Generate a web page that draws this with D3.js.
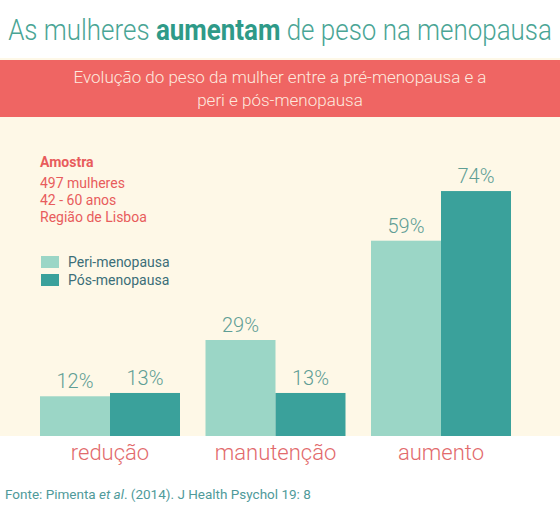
<!DOCTYPE html>
<html><head><meta charset="utf-8">
<script src="https://cdn.jsdelivr.net/npm/d3@7"></script>
<style>
html,body{margin:0;padding:0;background:#fff;}
svg{display:block;font-family:Roboto, "Noto Sans", sans-serif;}
</style></head>
<body><svg id="c" width="560" height="531"></svg>
<script>
const categories = ["redução", "manutenção", "aumento"];
const seriesNames = ["Peri-menopausa", "Pós-menopausa"];
const periValues = [12, 29, 59];
const posValues = [13, 13, 74];
const sampleLines = ["497 mulheres", "42 - 60 anos", "Região de Lisboa"];

const colors = {"Peri-menopausa": "#9bd6c6", "Pós-menopausa": "#3aa19b"};
const svg = d3.select("#c");

// backgrounds
svg.append("rect").attr("x",0).attr("y",0).attr("width",560).attr("height",531).attr("fill","#fff");
svg.append("rect").attr("x",0).attr("y",58).attr("width",560).attr("height",378).attr("fill","#fef8e7");
svg.append("rect").attr("x",0).attr("y",60).attr("width",560).attr("height",57).attr("fill","#ef6563");

// title (condensed horizontally to fit like the reference)
const tg = svg.append("g");
const title = tg.append("text").attr("x",0).attr("y",0).attr("text-anchor","middle")
  .attr("font-size",29).attr("font-weight",300).attr("fill","#4aa595");
title.append("tspan").text("As mulheres ");
title.append("tspan").attr("font-weight",700).attr("fill","#2e9a88").text("aumentam");
title.append("tspan").text(" de peso na menopausa");
const tw = title.node().getComputedTextLength();
const sx = Math.min(1, 544 / tw);
tg.attr("transform",`translate(280,40) scale(${sx},1)`);

// subtitle
const subLines = ["Evolução do peso da mulher entre a pré-menopausa e a", "peri e pós-menopausa"];
svg.selectAll("text.sub").data(subLines).enter().append("text").attr("class","sub")
  .attr("x",280).attr("y",(d,i)=>83+i*23).attr("text-anchor","middle")
  .attr("font-size",17).attr("font-weight",300).attr("fill","#fde9df").text(d=>d);

// scales
const x0 = d3.scaleBand().domain(categories).range([40,511]).paddingInner(25.5/165.5);
const x1 = d3.scaleBand().domain(seriesNames).range([0,x0.bandwidth()]);
const y = d3.scaleLinear().domain([0,100]).range([436,436-331]);

const data = categories.map((c,i)=>({cat:c, vals:[{s:seriesNames[0],v:periValues[i]},{s:seriesNames[1],v:posValues[i]}]}));

const g = svg.selectAll("g.grp").data(data).enter().append("g").attr("class","grp")
  .attr("transform",d=>`translate(${x0(d.cat)},0)`);
g.selectAll("rect").data(d=>d.vals).enter().append("rect")
  .attr("x",d=>x1(d.s)).attr("width",x1.bandwidth())
  .attr("y",d=>y(d.v)).attr("height",d=>y(0)-y(d.v)).attr("fill",d=>colors[d.s]);
g.selectAll("text.val").data(d=>d.vals).enter().append("text").attr("class","val")
  .attr("x",d=>x1(d.s)+x1.bandwidth()/2).attr("y",d=>y(d.v)-8)
  .attr("text-anchor","middle").attr("font-size",20).attr("font-weight",300)
  .attr("fill","#5f9e95").text(d=>d.v+"%");

// category axis
const xAxis = d3.axisBottom(x0).tickSize(0).tickPadding(0);
const ax = svg.append("g").attr("transform","translate(0,444)").call(xAxis);
ax.select(".domain").remove();
ax.selectAll("text").attr("font-size",22).attr("font-weight",300).attr("fill","#e26a6c")
  .attr("font-family","Roboto").attr("dy","0.71em").attr("y",0);

// sample info
svg.append("text").attr("x",40).attr("y",167).attr("font-size",14).attr("font-weight",700)
  .attr("fill","#e85c5c").text("Amostra");
svg.selectAll("text.samp").data(sampleLines).enter().append("text").attr("class","samp")
  .attr("x",40).attr("y",(d,i)=>188+i*17).attr("font-size",14).attr("fill","#e85c5c").text(d=>d);

// legend
const leg = svg.selectAll("g.leg").data(seriesNames).enter().append("g").attr("class","leg")
  .attr("transform",(d,i)=>`translate(41,${256+i*18})`);
leg.append("rect").attr("width",18).attr("height",12).attr("fill",d=>colors[d]);
leg.append("text").attr("x",27).attr("y",11).attr("font-size",14).attr("fill","#3b6e78").text(d=>d);

// source
const src = svg.append("text").attr("x",5).attr("y",499).attr("font-size",13.5).attr("fill","#4f9a9a");
src.append("tspan").text("Fonte: Pimenta ");
src.append("tspan").attr("font-style","italic").text("et al");
src.append("tspan").text(". (2014). J Health Psychol 19: 8");
</script></body></html>
